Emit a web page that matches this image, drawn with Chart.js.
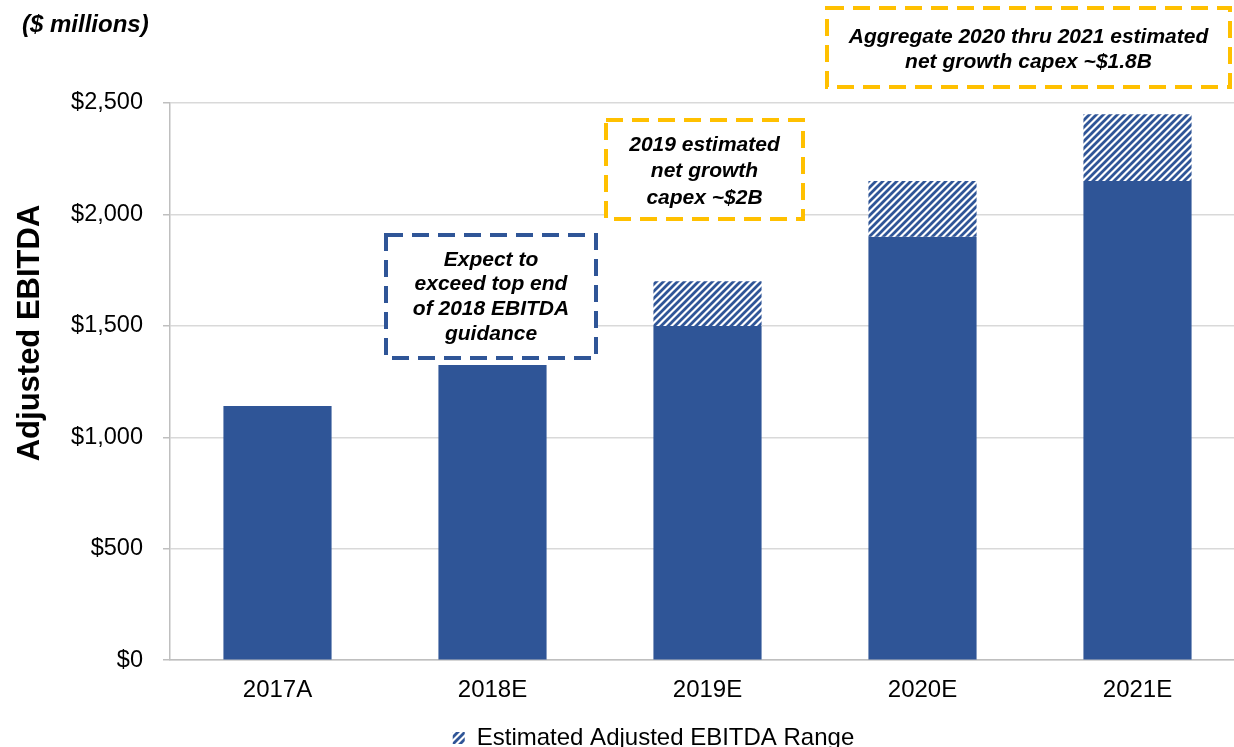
<!DOCTYPE html>
<html lang="en">
<head>
    <meta charset="UTF-8">
    <title>Adjusted EBITDA</title>
    <script src="https://cdn.jsdelivr.net/npm/chart.js"></script>
    <style>
        html, body {
            margin: 0;
            padding: 0;
            background: #fff;
            overflow: hidden;
        }
        .chart-container {
            position: relative;
            width: 1246px;
            height: 757px;
        }
    </style>
</head>
<body>
    <div class="chart-container">
        <canvas id="ebitdaChart"></canvas>
    </div>

    <script>
        // Data
        const years = ['2017A', '2018E', '2019E', '2020E', '2021E'];
        const baseEbitda = [1140, 1325, 1500, 1900, 2150];
        const rangeLow = [null, null, 1500, 1900, 2150];
        const rangeHigh = [null, null, 1700, 2150, 2450];
        const yTicks = [0, 500, 1000, 1500, 2000, 2500];

        const blue = '#2F5597';
        const gold = '#FFC000';
        const font = '"Liberation Sans", Arial, sans-serif';

        // hatched fill for the estimate range
        function makeHatch() {
            const c = document.createElement('canvas');
            c.width = 7;
            c.height = 7;
            const g = c.getContext('2d');
            g.fillStyle = '#fff';
            g.fillRect(0, 0, 7, 7);
            g.strokeStyle = blue;
            g.lineWidth = 2.8;
            g.beginPath();
            g.moveTo(-1, 8); g.lineTo(8, -1);
            g.moveTo(-5, 5); g.lineTo(5, -5);
            g.moveTo(2, 12); g.lineTo(12, 2);
            g.stroke();
            return g.createPattern(c, 'repeat');
        }
        const hatch = makeHatch();

        // annotation boxes (pixel layout only)
        const notes = [
            { x: 386, y: 235, w: 210, h: 123, color: blue, lines: ['Expect to', 'exceed top end', 'of 2018 EBITDA', 'guidance'], top: 260, step: 24.7 },
            { x: 606, y: 120, w: 197, h: 99, color: gold, lines: ['2019 estimated', 'net growth', 'capex ~$2B'], top: 145, step: 26.5 },
            { x: 827, y: 8, w: 403, h: 79, color: gold, lines: ['Aggregate 2020 thru 2021 estimated', 'net growth capex ~$1.8B'], top: 37, step: 25.5 }
        ];

        const notesPlugin = {
            id: 'notes',
            afterLayout(chart) {
                // legend sits a little right of centre and lower in the original
                chart.legend.left += 31;
                chart.legend.right += 31;
                chart.legend.top += 3;
                chart.legend.bottom += 3;
            },
            afterDraw(chart) {
                const g = chart.ctx;
                g.save();
                g.fillStyle = '#000';
                g.textBaseline = 'middle';

                // axis title, placed where the original has it
                g.save();
                g.translate(30, 333);
                g.rotate(-Math.PI / 2);
                g.textAlign = 'center';
                g.font = 'bold 31px ' + font;
                g.fillText('Adjusted EBITDA', 0, 0);
                g.restore();

                g.font = 'italic bold 24px ' + font;
                g.textAlign = 'left';
                g.fillText('($ millions)', 22, 25);

                g.font = 'italic bold 21px ' + font;
                notes.forEach(n => {
                    g.fillStyle = '#fff';
                    g.fillRect(n.x, n.y, n.w, n.h);
                    g.setLineDash([17, 9]);
                    g.lineWidth = 4;
                    g.strokeStyle = n.color;
                    g.strokeRect(n.x, n.y, n.w, n.h);
                    g.setLineDash([]);
                    g.fillStyle = '#000';
                    g.textAlign = 'center';
                    n.lines.forEach((t, i) => {
                        g.fillText(t, n.x + n.w / 2, n.top + i * n.step);
                    });
                });
                g.restore();
            }
        };

        const ctx = document.getElementById('ebitdaChart').getContext('2d');
        new Chart(ctx, {
            type: 'bar',
            data: {
                labels: years,
                datasets: [{
                    label: 'Adjusted EBITDA',
                    data: baseEbitda,
                    backgroundColor: blue,
                    categoryPercentage: 1,
                    barPercentage: 0.503,
                    grouped: false,
                    order: 2
                }, {
                    label: 'Estimated Adjusted EBITDA Range',
                    data: rangeLow.map((lo, i) => lo === null ? null : [lo, rangeHigh[i]]),
                    backgroundColor: hatch,
                    categoryPercentage: 1,
                    barPercentage: 0.503,
                    grouped: false,
                    order: 1
                }]
            },
            options: {
                responsive: true,
                maintainAspectRatio: false,
                animation: false,
                layout: {
                    padding: { top: 103, right: 1, bottom: 0, left: 0 }
                },
                plugins: {
                    tooltip: { enabled: false },
                    legend: {
                        position: 'bottom',
                        labels: {
                            filter: item => item.datasetIndex === 1,
                            color: '#000',
                            boxWidth: 12,
                            boxHeight: 12,
                            padding: 2,
                            font: { family: font, size: 24 }
                        }
                    }
                },
                scales: {
                    x: {
                        grid: { display: false, drawTicks: false },
                        border: { color: '#bfbfbf', width: 1.5 },
                        ticks: {
                            color: '#000',
                            padding: 16,
                            font: { family: font, size: 24 }
                        }
                    },
                    y: {
                        min: 0,
                        max: 2500,
                        afterBuildTicks: scale => {
                            scale.ticks = yTicks.map(v => ({ value: v }));
                        },
                        afterFit: scale => {
                            scale.width = 170;
                        },
                        grid: {
                            color: '#d9d9d9',
                            lineWidth: 1.5,
                            tickLength: 7,
                            tickColor: '#bfbfbf'
                        },
                        border: { color: '#bfbfbf', width: 1.5 },
                        ticks: {
                            color: '#000',
                            padding: 20,
                            font: { family: font, size: 23.5 },
                            callback: v => '$' + v.toLocaleString('en-US')
                        }
                    }
                }
            },
            plugins: [notesPlugin]
        });
    </script>
</body>
</html>
